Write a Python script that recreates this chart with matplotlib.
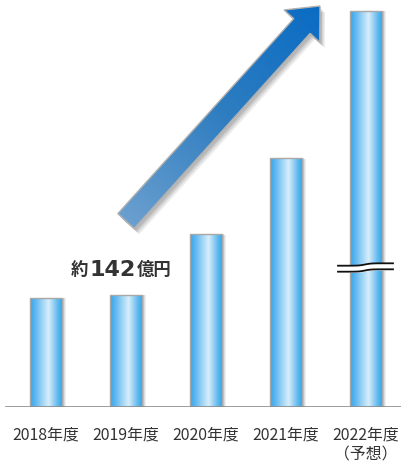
import numpy as np
import matplotlib.pyplot as plt
from matplotlib.colors import LinearSegmentedColormap
from matplotlib.patches import Polygon, Rectangle

years = ['2018年度', '2019年度', '2020年度', '2021年度', '2022年度\n（予想）']
values = [142, 146, 225, 324, 516]   # last bar is drawn with a break mark
label_value = values[0]

fig = plt.figure(figsize=(4.01, 4.66), dpi=100)
ax = fig.add_axes([0, 59 / 466, 1, 407 / 466])
x = np.arange(len(years))
ax.set_xlim(-46 / 80, (401 - 46) / 80)
ax.set_ylim(0, 530)
for s in ['top', 'right', 'left', 'bottom']:
    ax.spines[s].set_visible(False)
ax.set_yticks([])
ax.set_xticks(x)
ax.set_xticklabels(years, fontsize=11.4, color='#333333', linespacing=1.25,
                   family=['Noto Sans CJK JP', 'DejaVu Sans'])
ax.tick_params(axis='x', length=0, pad=14)
ax.hlines(0, -41 / 80, (401 - 46) / 80, color='#8c8c8c', lw=1.2, zorder=5)

bar_cmap = LinearSegmentedColormap.from_list(
    'bar', [(0, '#36a5ec'), (0.18, '#62b9ef'), (0.58, '#d8eefb'), (0.85, '#6cbdf0'), (1, '#3aa8ec')])
grad = np.linspace(0, 1, 80).reshape(1, -1)
w = 0.4
for i, v in enumerate(values):
    # soft shadow on the right
    for k, a in enumerate([0.10, 0.10, 0.08, 0.06]):
        off = (k + 1) * 0.013
        ax.add_patch(Rectangle((i - w / 2 + off, 0), w, v - off * 12, color='#000000',
                               alpha=a, lw=0, zorder=1))
    im = ax.imshow(grad, cmap=bar_cmap, aspect='auto', extent=(i - w / 2, i + w / 2, 0, v), zorder=2)
    r = Rectangle((i - w / 2, 0), w, v, fill=False, ec='#a8a8a8', lw=1.0, zorder=3)
    ax.add_patch(r)
    im.set_clip_path(r)

# overlay in pixel coordinates for the decorations
ov = fig.add_axes([0, 0, 1, 1], zorder=10)
ov.set_xlim(0, 401)
ov.set_ylim(466, 0)
ov.axis('off')
ov.patch.set_alpha(0)

# break mark on last bar
bx = np.linspace(338, 393, 100)
wave = 1.2 * np.tanh((bx - 365) / 6)
y_top = 264.5 - wave
y_bot = 270.5 - wave
ov.fill_between(bx, y_top, y_bot, color='white', zorder=3)
ov.plot(bx, y_top, color='#111111', lw=1.3, zorder=4)
ov.plot(bx, y_bot, color='#111111', lw=1.3, zorder=4)

# big arrow
T = np.array([126.0, 221.0])
P = np.array([320.0, 6.0])
u = (P - T) / np.linalg.norm(P - T)
n = np.array([-u[1], u[0]])
L = np.linalg.norm(P - T)
hw, HW, HL = 11.0, 24.0, 27.0
neck = T + u * (L - HL)
pts = np.array([T + n * hw, neck + n * hw, neck + n * HW, P,
                neck - n * HW, neck - n * hw, T - n * hw])
for k, a in enumerate([0.12, 0.10, 0.08]):
    ov.add_patch(Polygon(pts + np.array([2 + k * 1.5, 3 + k * 1.5]), closed=True,
                         color='black', alpha=a, lw=0, zorder=1))
x0, x1 = pts[:, 0].min() - 2, pts[:, 0].max() + 2
y0, y1 = pts[:, 1].min() - 2, pts[:, 1].max() + 2
gx, gy = np.meshgrid(np.linspace(x0, x1, 200), np.linspace(y0, y1, 200))
proj = ((gx - T[0]) * u[0] + (gy - T[1]) * u[1]) / L
arr_cmap = LinearSegmentedColormap.from_list('arr', ['#6a9fcf', '#2e7dc0', '#0a6cc4'])
aim = ov.imshow(proj, cmap=arr_cmap, vmin=0, vmax=1, origin='upper',
                extent=(x0, x1, y1, y0), aspect='auto', zorder=2)
poly = Polygon(pts, closed=True, fill=False, ec='#b0b0b0', lw=1.0, zorder=3)
ov.add_patch(poly)
aim.set_clip_path(poly)

# label
ov.text(71, 270, '約', fontsize=12.5, fontweight='bold', color='#333333',
        family='Noto Sans CJK JP', va='center', ha='left')
ov.text(90, 270, str(label_value), fontsize=16, fontweight='bold', color='#333333',
        family='DejaVu Sans', va='center', ha='left')
ov.text(137, 270, '億円', fontsize=12.5, fontweight='bold', color='#333333',
        family='Noto Sans CJK JP', va='center', ha='left')

fig.savefig('out.png', dpi=100)
